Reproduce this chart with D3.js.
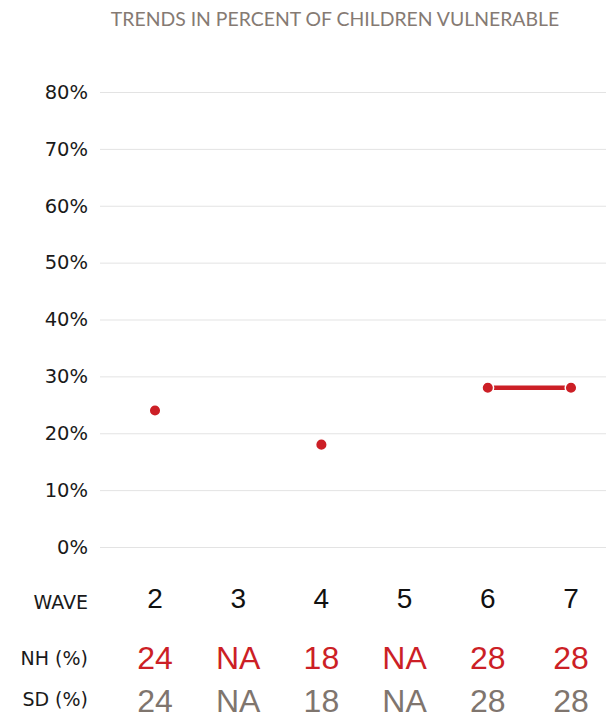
<!DOCTYPE html>
<html>
<head>
<meta charset="utf-8">
<script src="https://cdn.jsdelivr.net/npm/d3@7"></script>
<style>
  body { margin: 0; background: #fff; }
  svg { display: block; }
</style>
</head>
<body>
<div id="chart"></div>
<script>
// chart data
let waves = [2, 3, 4, 5, 6, 7];
let nhValues = [24, null, 18, null, 28, 28];
let sdValues = [24, null, 18, null, 28, 28];
let yTicks = [0, 10, 20, 30, 40, 50, 60, 70, 80];
let titleText = "TRENDS IN PERCENT OF CHILDREN VULNERABLE";

function draw_chart(){
    let svgwidth = 606;
    let svgheight = 718;
    let svg = d3.select("#chart").append("svg")
        .attr("width", svgwidth)
        .attr("height", svgheight);

    let red = "#cc1f26";
    let grey = "#7f756e";
    let titleFont = "Lato, 'Open Sans', sans-serif";
    let labelFont = "'DejaVu Sans', 'Open Sans', sans-serif";
    let numFont = "'Liberation Sans', Arial, sans-serif";

    // scales
    let x = d3.scalePoint()
        .domain(waves)
        .range([155, 571]);

    let y = d3.scaleLinear()
        .domain([0, 80])
        .range([547, 92]);

    // title
    svg.append("text")
        .attr("x", 335)
        .attr("y", 26)
        .attr("text-anchor", "middle")
        .attr("font-family", titleFont)
        .attr("font-weight", 400)
        .attr("font-size", "19.4px")
        .attr("fill", "#857a73")
        .text(titleText);

    // y axis with gridlines
    let yaxis = d3.axisLeft(y)
        .tickValues(yTicks)
        .tickSize(-(606 - 100))
        .tickPadding(12)
        .tickFormat(d => d + "%");

    let gy = svg.append("g")
        .attr("transform", "translate(100,0)")
        .call(yaxis);
    gy.select(".domain").remove();
    gy.selectAll(".tick line")
        .attr("stroke", "#e3e3e3")
        .attr("stroke-width", 1);
    gy.selectAll(".tick text")
        .attr("font-family", labelFont)
        .attr("font-size", "19.5px")
        .attr("fill", "#1a1a1a");

    // line segments between consecutive valid points
    let pts = waves.map((w, i) => ({wave: w, v: nhValues[i]}));
    let line = d3.line()
        .defined(d => d.v !== null)
        .x(d => x(d.wave))
        .y(d => y(d.v));

    svg.append("path")
        .datum(pts)
        .attr("d", line)
        .attr("fill", "none")
        .attr("stroke", red)
        .attr("stroke-width", 4.5);

    // dots
    svg.selectAll("circle.nh")
        .data(pts.filter(d => d.v !== null))
        .enter()
        .append("circle")
        .attr("class", "nh")
        .attr("cx", d => x(d.wave))
        .attr("cy", d => y(d.v))
        .attr("r", 5.8)
        .attr("fill", red)
        .attr("stroke", "#fff")
        .attr("stroke-width", 1.5);

    // bottom table
    let rows = [
        {label: "WAVE", y: 598, base: 609, values: waves, color: "#111", size: 28},
        {label: "NH (%)", y: 657.5, base: 665, values: nhValues, color: red, size: 32},
        {label: "SD (%)", y: 700, base: 706, values: sdValues, color: grey, size: 32}
    ];

    rows.forEach(function(r){
        svg.append("text")
            .attr("x", 88)
            .attr("y", r.base)
            .attr("text-anchor", "end")
            .attr("font-family", labelFont)
            .attr("font-size", "19px")
            .attr("fill", "#1a1a1a")
            .text(r.label);

        svg.selectAll(null)
            .data(waves)
            .enter()
            .append("text")
            .attr("x", d => x(d))
            .attr("y", r.y)
            .attr("dy", "0.36em")
            .attr("text-anchor", "middle")
            .attr("font-family", numFont)
            .attr("font-size", r.size + "px")
            .attr("fill", r.color)
            .text((d, i) => r.values[i] === null ? "NA" : r.values[i]);
    });
}
draw_chart();
</script>
</body>
</html>
